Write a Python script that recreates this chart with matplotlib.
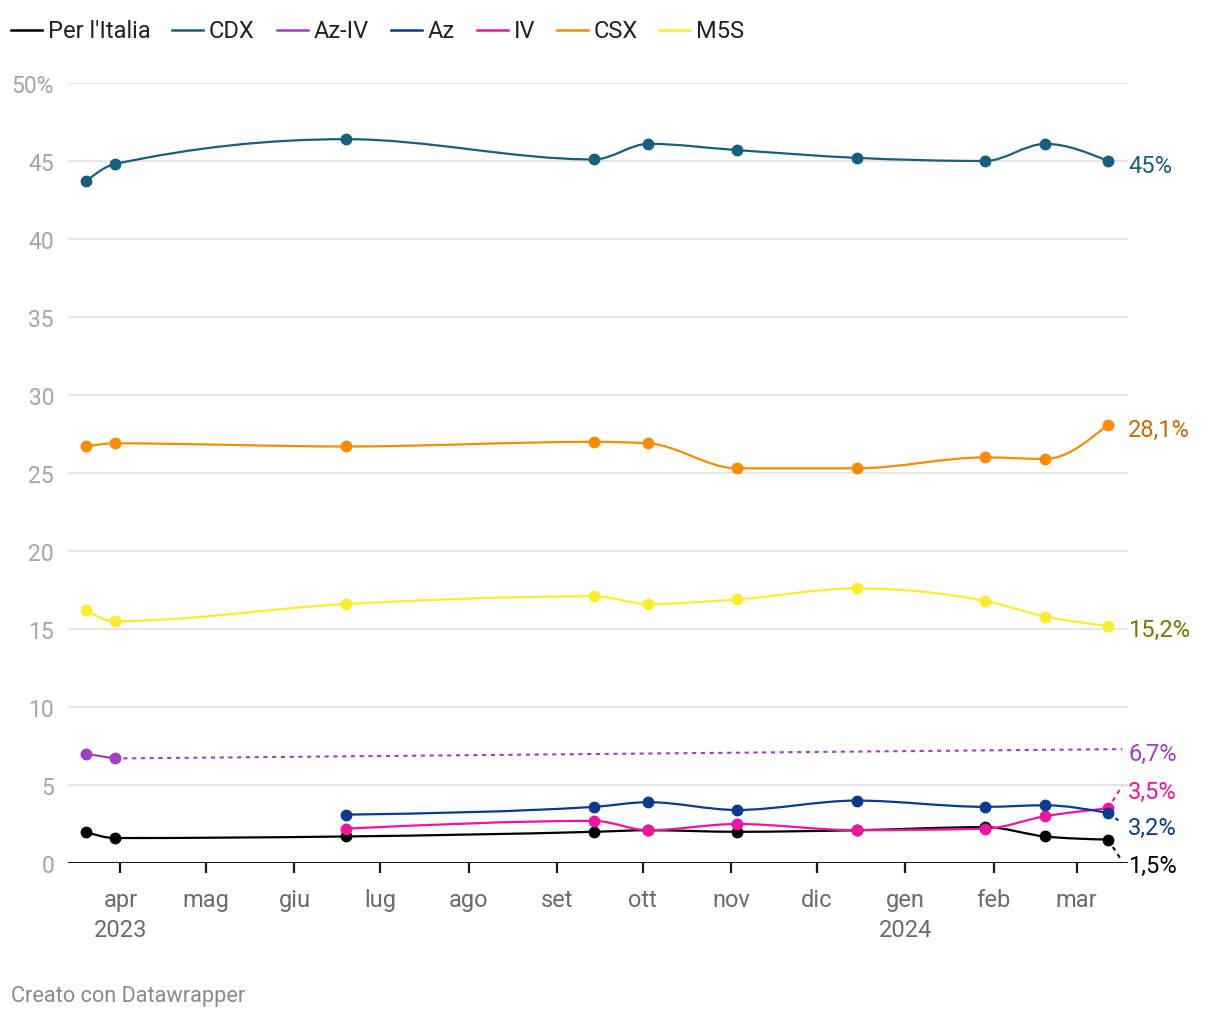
import numpy as np
import pandas as pd
import matplotlib
matplotlib.use("Agg")
import matplotlib.pyplot as plt
import matplotlib.dates as mdates
from matplotlib.path import Path
from matplotlib.patches import PathPatch
from matplotlib.lines import Line2D

plt.rcParams['font.family'] = ['Roboto', 'DejaVu Sans']

# date dei sondaggi
dates = ["2023-03-20", "2023-03-30", "2023-06-19", "2023-09-14", "2023-10-03",
         "2023-11-03", "2023-12-15", "2024-01-29", "2024-02-19", "2024-03-12"]

cdx = [43.7, 44.8, 46.4, 45.1, 46.1, 45.7, 45.2, 45.0, 46.1, 45.0]
csx = [26.7, 26.9, 26.7, 27.0, 26.9, 25.3, 25.3, 26.0, 25.9, 28.1]
m5s = [16.2, 15.5, 16.6, 17.1, 16.6, 16.9, 17.6, 16.8, 15.8, 15.2]
az_iv = [7.0, 6.7]
az = [3.1, 3.6, 3.9, 3.4, 4.0, 3.6, 3.7, 3.2]
iv = [2.2, 2.7, 2.1, 2.5, 2.1, 2.2, 3.0, 3.5]
per_italia = [2.0, 1.6, 1.7, 2.0, 2.1, 2.0, 2.1, 2.3, 1.7, 1.5]

names = ["Per l'Italia", "CDX", "Az-IV", "Az", "IV", "CSX", "M5S"]
colors = {"Per l'Italia": "#000000", "CDX": "#15607a", "Az-IV": "#a03fc0",
          "Az": "#0b3a8f", "IV": "#f0149e", "CSX": "#fa8c00", "M5S": "#fbed2b"}
label_colors = {"Per l'Italia": "#000000", "CDX": "#15607a", "Az-IV": "#a03fc0",
                "Az": "#0b3a8f", "IV": "#f0149e", "CSX": "#c86a00", "M5S": "#7d7500"}
end_labels = {"CDX": "45%", "CSX": "28,1%", "M5S": "15,2%", "Az-IV": "6,7%",
              "IV": "3,5%", "Az": "3,2%", "Per l'Italia": "1,5%"}
# posizione verticale delle etichette finali
label_y = {"CDX": 44.7, "CSX": 27.8, "M5S": 15.0, "Az-IV": 7.05,
           "IV": 4.6, "Az": 2.3, "Per l'Italia": -0.15}

xd = mdates.date2num(pd.to_datetime(dates))
series = {
    "CDX": (xd, cdx),
    "CSX": (xd, csx),
    "M5S": (xd, m5s),
    "Az-IV": (xd[:2], az_iv),
    "Per l'Italia": (xd, per_italia),
    "IV": (xd[2:], iv),
    "Az": (xd[2:], az),
}


def monotone_path(x, y):
    # curva monotona (come curveMonotoneX) tramite curve di Bezier
    x = np.asarray(x, float)
    y = np.asarray(y, float)
    n = len(x)
    h = np.diff(x)
    s = np.diff(y) / h
    t = np.zeros(n)
    for i in range(1, n - 1):
        p = (s[i - 1] * h[i] + s[i] * h[i - 1]) / (h[i - 1] + h[i])
        t[i] = (np.sign(s[i - 1]) + np.sign(s[i])) * min(abs(s[i - 1]), abs(s[i]), 0.5 * abs(p))
    if n > 2:
        t[0] = (3 * s[0] - t[1]) / 2
        t[-1] = (3 * s[-1] - t[-2]) / 2
    else:
        t[0] = t[-1] = s[0]
    verts = [(x[0], y[0])]
    codes = [Path.MOVETO]
    for i in range(n - 1):
        d = h[i] / 3
        verts += [(x[i] + d, y[i] + d * t[i]), (x[i + 1] - d, y[i + 1] - d * t[i + 1]),
                  (x[i + 1], y[i + 1])]
        codes += [Path.CURVE4] * 3
    return Path(verts, codes)


fig = plt.figure(figsize=(12.2, 10.2), dpi=100)
ax = fig.add_axes([68 / 1220, 1 - 864 / 1020, 1060 / 1220, 780 / 1020])

x0 = mdates.date2num(pd.Timestamp("2023-03-13 16:00"))
x1 = mdates.date2num(pd.Timestamp("2024-03-19"))
ax.set_xlim(x0, x1)
ax.set_ylim(0, 50)

# griglia
for v in range(5, 55, 5):
    ax.axhline(v, color="#e3e3e3", lw=1.3, zorder=0)
ax.axhline(0, color="#1a1a1a", lw=2.2, zorder=1)

for name in ["CDX", "CSX", "M5S", "Az-IV", "Per l'Italia", "IV", "Az"]:
    x, y = series[name]
    c = colors[name]
    ax.add_patch(PathPatch(monotone_path(x, y), fill=False, edgecolor=c, lw=1.6,
                           zorder=3, clip_on=False))
    ax.plot(x, y, "o", color=c, ms=7.5, zorder=4, clip_on=False)

# linee tratteggiate verso le etichette
x_end = mdates.date2num(pd.Timestamp("2024-03-17"))
conn = {"Az-IV": 7.3, "IV": 4.95, "Az": 2.55, "Per l'Italia": 0.1}
for name, ye in conn.items():
    x, y = series[name]
    ax.plot([x[-1], x_end], [y[-1], ye], ls=(0, (2, 2.2)), color=colors[name],
            lw=1.5, zorder=3, clip_on=False)

ytr = ax.get_yaxis_transform()
for name, txt in end_labels.items():
    ax.text(1.0, label_y[name], txt, transform=ytr, ha="left", va="center",
            fontsize=17, color=label_colors[name], clip_on=False)

# assi
ax.set_yticks(range(0, 55, 5))
ax.set_yticklabels([str(v) for v in range(0, 50, 5)] + ["50%"])
ax.tick_params(axis="y", length=0, pad=10, labelsize=16.5, labelcolor="#a6a6a6")

months = pd.date_range("2023-04-01", "2024-03-01", freq="MS")
mlabels = ["apr\n2023", "mag", "giu", "lug", "ago", "set", "ott", "nov", "dic",
           "gen\n2024", "feb", "mar"]
ax.set_xticks(mdates.date2num(months))
ax.set_xticklabels(mlabels, linespacing=1.4)
ax.tick_params(axis="x", length=7, width=1.6, color="#1a1a1a", pad=11,
               labelsize=17, labelcolor="#6b6b6b")
for sp in ax.spines.values():
    sp.set_visible(False)

# legenda
leg_x = [11, 172, 277, 391, 477, 557, 659]
for name, lx in zip(names, leg_x):
    fig.add_artist(Line2D([lx / 1220, (lx + 31) / 1220], [1 - 31 / 1020] * 2,
                          color=colors[name], lw=1.8, transform=fig.transFigure))
    fig.text((lx + 37) / 1220, 1 - 31 / 1020, name, ha="left", va="center",
             fontsize=17, color="#222222")

fig.text(11 / 1220, 1 - 997 / 1020, "Creato con Datawrapper", ha="left", va="center",
         fontsize=15.7, color="#8a8a8a")

fig.savefig("out.png", dpi=100)
